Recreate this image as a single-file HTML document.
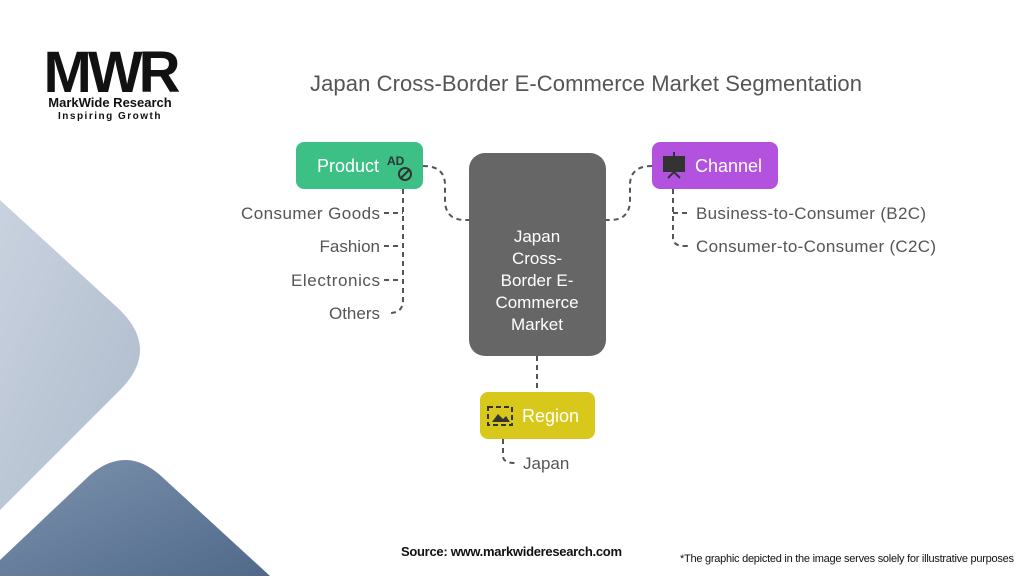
<!DOCTYPE html>
<html><head><meta charset="utf-8"><style>
body{margin:0;width:1024px;height:576px;overflow:hidden;background:#fff;font-family:"Liberation Sans",sans-serif}
</style></head><body>
<svg width="1024" height="576" viewBox="0 0 1024 576" xmlns="http://www.w3.org/2000/svg" font-family="Liberation Sans, sans-serif">
<defs>
<linearGradient id="g1" x1="0" y1="0" x2="1" y2="1"><stop offset="0" stop-color="#c9d2df"/><stop offset="1" stop-color="#aebbcc"/></linearGradient>
<linearGradient id="g2" x1="0" y1="0" x2="1" y2="1"><stop offset="0" stop-color="#7d93ae"/><stop offset="1" stop-color="#50698a"/></linearGradient>
</defs>
<path d="M0 200 L120 310 Q160 350 120 390 L0 510 Z" fill="url(#g1)"/>
<path d="M0 576 L0 560 L90 475 Q125 445 160 475 L270 576 Z" fill="url(#g2)"/>
<text x="110" y="92" text-anchor="middle" font-size="58" font-weight="bold" fill="#111" letter-spacing="-4">MWR</text>
<text x="110" y="107" text-anchor="middle" font-size="13" font-weight="bold" fill="#111">MarkWide Research</text>
<text x="110" y="119" text-anchor="middle" font-size="10" font-weight="bold" fill="#111" letter-spacing="1.5">Inspiring Growth</text>
<text x="586" y="91" text-anchor="middle" font-size="22" fill="#555" textLength="552">Japan Cross-Border E-Commerce Market Segmentation</text>
<g fill="none" stroke="#555" stroke-width="2" stroke-dasharray="5,4">
<path d="M423 166 Q445 166 445 185 L445 200 Q445 220 465 220 L469 220"/>
<path d="M652 166 Q630 166 630 185 L630 200 Q630 220 610 220 L606 220"/>
<path d="M403 189 L403 300 Q403 313 390 313"/>
<path d="M384 213 L403 213 M384 246 L403 246 M384 280 L403 280"/>
<path d="M673 189 L673 238 Q673 246 685 246 L690 246 M673 213 L690 213"/>
<path d="M537 356 L537 392"/>
<path d="M503 439 L503 456 Q503 463 515 463"/>
</g>
<rect x="296" y="142" width="127" height="47" rx="8" fill="#3dc085"/>
<text x="317" y="172" font-size="18" fill="#fff">Product</text>
<text x="387" y="165" font-size="12" fill="#333" font-weight="bold">AD</text>
<circle cx="405" cy="174" r="6" fill="none" stroke="#333" stroke-width="2"/>
<line x1="401" y1="178" x2="409" y2="170" stroke="#333" stroke-width="2"/>
<rect x="469" y="153" width="137" height="203" rx="16" fill="#666"/>
<g font-size="17" fill="#fff" text-anchor="middle">
<text x="537" y="242">Japan</text><text x="537" y="264">Cross-</text><text x="537" y="286">Border E-</text><text x="537" y="308">Commerce</text><text x="537" y="330">Market</text>
</g>
<rect x="652" y="142" width="126" height="47" rx="8" fill="#b452e0"/>
<rect x="663" y="156" width="22" height="16" fill="#333"/>
<path d="M668 178 L674 172 L680 178 M674 152 L674 156" stroke="#333" stroke-width="2" fill="none"/>
<text x="695" y="172" font-size="18" fill="#fff">Channel</text>
<rect x="480" y="392" width="115" height="47" rx="8" fill="#d9c81c"/>
<rect x="488" y="407" width="24" height="18" fill="none" stroke="#333" stroke-width="2" stroke-dasharray="5,3"/>
<path d="M492 422 L498 414 L503 419 L506 416 L510 422 Z" fill="#333"/>
<text x="522" y="422" font-size="18" fill="#fff">Region</text>
<g font-size="17" fill="#555" text-anchor="end">
<text x="380" y="219" textLength="139">Consumer Goods</text><text x="380" y="252">Fashion</text><text x="380" y="286" textLength="89">Electronics</text><text x="380" y="319">Others</text>
</g>
<g font-size="17" fill="#555">
<text x="696" y="219" textLength="230">Business-to-Consumer (B2C)</text><text x="696" y="252" textLength="240">Consumer-to-Consumer (C2C)</text>
<text x="523" y="469">Japan</text>
</g>
<text x="401" y="556" font-size="13" font-weight="bold" fill="#111" textLength="221">Source: www.markwideresearch.com</text>
<text x="680" y="562" font-size="11" fill="#111" textLength="334">*The graphic depicted in the image serves solely for illustrative purposes</text>
</svg>
</body></html>
